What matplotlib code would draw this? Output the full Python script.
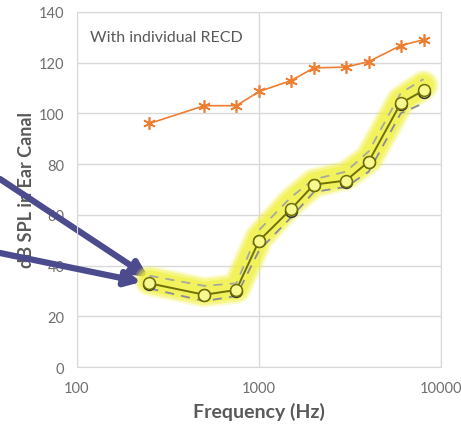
import matplotlib.pyplot as plt
import numpy as np

plt.rcParams['font.family'] = ['Lato', 'DejaVu Sans']

freqs = [250, 500, 750, 1000, 1500, 2000, 3000, 4000, 6000, 8000]
ucl = [96, 103, 103, 108.6, 112.9, 117.9, 118.2, 120.4, 126.7, 129]
target = [33, 28.5, 30.4, 49.8, 62.3, 71.9, 73.5, 81, 104, 109]
measured = [32.8, 28.3, 29.8, 49.5, 61.7, 71.6, 73.0, 80.8, 103.8, 108.4]
upper = [36, 32, 33, 54, 67, 74, 77, 85, 108, 113.5]
lower = [31, 26, 28, 46, 59, 69, 71, 77, 100, 104]
band = [34, 29.5, 31, 51, 65, 72.5, 75.5, 82, 105, 111]

grey = '#595959'

fig = plt.figure(figsize=(4.61, 4.27), dpi=100)
ax = fig.add_axes([0.167, 0.138, 0.79, 0.832])

# soft highlighter band
for lw, a in [(22, 0.25), (19, 0.45), (15, 0.6)]:
    ax.plot(freqs, band, color='#f0f03c', lw=lw, alpha=a, solid_capstyle='round',
            solid_joinstyle='round', zorder=2)
ax.plot(freqs, upper, color='#a8a8a0', lw=1.3, ls=(0, (5, 4)), zorder=3)
ax.plot(freqs, lower, color='#8a8a9c', lw=1.3, ls=(0, (5, 4)), zorder=3)
ax.plot(freqs, measured, 'o', ms=8.5, mfc='none', mec='#333333', mew=1.1, zorder=4)
ax.plot(freqs, target, '-o', color='#707008', lw=1.4, ms=8.5, mfc='#f8f890',
        mec='#707008', mew=1.1, zorder=5)
ax.plot(freqs, ucl, '-', color='#ED7D31', lw=1.2, marker=(6, 2, 0), ms=9,
        mew=1.2, zorder=5)

ax.set_xscale('log')
ax.set_xlim(100, 10000)
ax.set_ylim(0, 140)
ax.set_yticks(np.arange(0, 141, 20))
ax.set_xticks([100, 1000, 10000])
ax.set_xticklabels(['100', '1000', '10000'])
ax.minorticks_off()
ax.grid(True, color='#d9d9d9', lw=1)
ax.set_axisbelow(True)
for s in ax.spines.values():
    s.set_color('#d9d9d9')
ax.tick_params(length=0, labelsize=10.5, colors='#6f6f6f')
ax.tick_params(axis='x', pad=10)
ax.tick_params(axis='y', pad=9)

ax.set_xlabel('Frequency (Hz)', fontsize=14, fontweight='bold', color=grey, labelpad=5)
ax.set_ylabel('dB SPL in Ear Canal', fontsize=13, fontweight='bold', color=grey, labelpad=3)
ax.text(0.036, 0.93, 'With individual RECD', transform=ax.transAxes, fontsize=11.5,
        color=grey, va='center')

arrow = dict(arrowstyle='-|>,head_length=0.9,head_width=0.45', color='#4b4b8e', lw=4.5,
             shrinkA=0, shrinkB=0)
ax.annotate('', xy=(freqs[0] * 0.985, target[0] + 2.5), xytext=(0, 247),
            xycoords='data', textcoords='figure pixels', arrowprops=arrow, zorder=1)
ax.annotate('', xy=(freqs[0] * 0.9, target[0] + 0.5), xytext=(0, 173),
            xycoords='data', textcoords='figure pixels', arrowprops=arrow, zorder=6)

fig.savefig('out.png', dpi=100)
